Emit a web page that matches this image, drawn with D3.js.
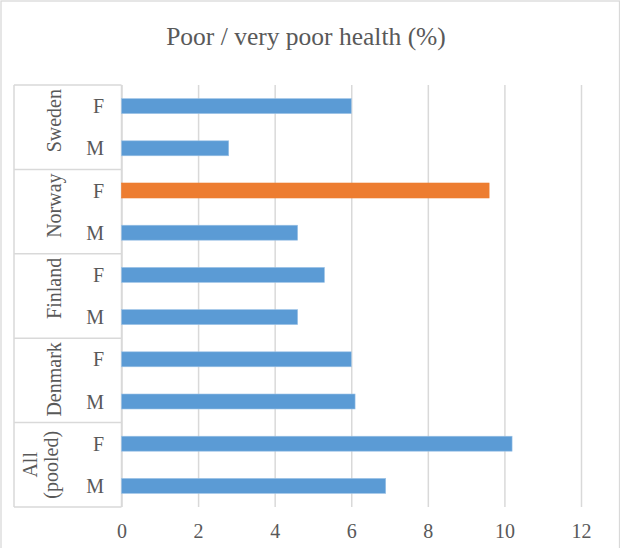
<!DOCTYPE html>
<html>
<head>
<meta charset="utf-8">
<script src="https://cdn.jsdelivr.net/npm/d3@7"></script>
<style>
  html, body { margin: 0; padding: 0; background: #ffffff; }
  svg { display: block; }
  text { font-family: "Liberation Serif", "Times New Roman", serif; fill: #595959; }
</style>
</head>
<body>
<svg id="chart" width="620" height="548"></svg>
<script>
// ---- data ----
const title = "Poor / very poor health (%)";
const countries = ["Sweden", "Norway", "Finland", "Denmark", "All (pooled)"];
const sexes = ["F", "M"];
const femaleValues = [6.0, 9.6, 5.3, 6.0, 10.2];
const maleValues = [2.8, 4.6, 4.6, 6.1, 6.9];
const highlighted = ["Norway|F"];
const xTicks = [0, 2, 4, 6, 8, 10, 12];

const rows = [];
countries.forEach((c, i) => {
  rows.push({ country: c, sex: "F", value: femaleValues[i], key: c + "|F" });
  rows.push({ country: c, sex: "M", value: maleValues[i], key: c + "|M" });
});

// ---- layout ----
const svg = d3.select("#chart");
const W = 620, H = 548;
const plot = { left: 121.5, right: 581, top: 85, bottom: 507 };
const tableLeft = 14;
const gridColor = "#d9d9d9";

svg.append("rect")
  .attr("x", 1).attr("y", 1).attr("width", W - 1.5).attr("height", H + 5)
  .attr("fill", "#fff").attr("stroke", gridColor).attr("stroke-width", 1.3);

const x = d3.scaleLinear().domain([0, 12]).range([plot.left, plot.right]);
const y = d3.scaleBand()
  .domain(rows.map(d => d.key))
  .range([plot.top, plot.bottom])
  .paddingInner(0.645)
  .paddingOuter(0.3225);

// title
svg.append("text")
  .attr("x", 306).attr("y", 45)
  .attr("text-anchor", "middle")
  .style("font-size", "25.5px")
  .text(title);

// gridlines + tick labels via axis
const xAxis = d3.axisBottom(x).tickValues(xTicks).tickSize(plot.bottom - plot.top).tickFormat(d3.format("d"));
const gx = svg.append("g")
  .attr("transform", `translate(0,${plot.top})`)
  .call(xAxis);
gx.select(".domain").remove();
gx.selectAll(".tick line").attr("stroke", gridColor).attr("stroke-width", 1.5);
gx.selectAll(".tick text")
  .attr("y", plot.bottom - plot.top + 31)
  .attr("dy", null)
  .attr("fill", "#595959")
  .style("font-size", "20px")
  .style("font-family", "'Liberation Serif', 'Times New Roman', serif");

// category table lines
const tbl = svg.append("g");
tbl.append("line").attr("x1", tableLeft).attr("x2", tableLeft)
  .attr("y1", plot.top).attr("y2", plot.bottom)
  .attr("stroke", gridColor).attr("stroke-width", 1.5);
tbl.append("line").attr("x1", x(0)).attr("x2", x(0))
  .attr("y1", plot.top).attr("y2", plot.bottom)
  .attr("stroke", gridColor).attr("stroke-width", 1.5);
const groupTops = countries.map(c => y(c + "|F") - (y.step() - y.bandwidth()) / 2);
const boundaries = groupTops.concat([plot.bottom]);
tbl.selectAll("line.h").data(boundaries).join("line")
  .attr("class", "h")
  .attr("x1", tableLeft).attr("x2", x(0))
  .attr("y1", d => d).attr("y2", d => d)
  .attr("stroke", gridColor).attr("stroke-width", 1.5);

// bars
svg.append("g").selectAll("rect").data(rows).join("rect")
  .attr("x", x(0))
  .attr("y", d => y(d.key))
  .attr("width", d => x(d.value) - x(0))
  .attr("height", y.bandwidth())
  .attr("fill", d => highlighted.includes(d.key) ? "#ed7d31" : "#5b9bd5")
  .attr("stroke", d => highlighted.includes(d.key) ? "#ed7d31" : "#9dc3e6")
  .attr("stroke-width", 0.6);

// sex labels
svg.append("g").selectAll("text").data(rows).join("text")
  .attr("x", 104)
  .attr("y", d => y(d.key) + y.bandwidth() / 2 + 7)
  .attr("text-anchor", "end")
  .style("font-size", "20px")
  .text(d => d.sex);

// country labels (rotated)
const cg = svg.append("g");
countries.forEach((c, i) => {
  const top = boundaries[i], bottom = boundaries[i + 1];
  const words = c.split(" ");
  if (words.length === 1) {
    const t = cg.append("text")
      .attr("text-anchor", "end")
      .style("font-size", "20px")
      .text(c);
    const len = t.node().getComputedTextLength();
    const endY = Math.min(top + 4, bottom - 3 - len);
    t.attr("transform", `translate(61,${endY}) rotate(-90)`);
  } else {
    const cy = (top + bottom) / 2;
    const lineXs = [36.5, 58];
    words.forEach((w, j) => {
      cg.append("text")
        .attr("text-anchor", "middle")
        .attr("transform", `translate(${lineXs[j]},${cy}) rotate(-90)`)
        .style("font-size", "20px")
        .text(w);
    });
  }
});
</script>
</body>
</html>
